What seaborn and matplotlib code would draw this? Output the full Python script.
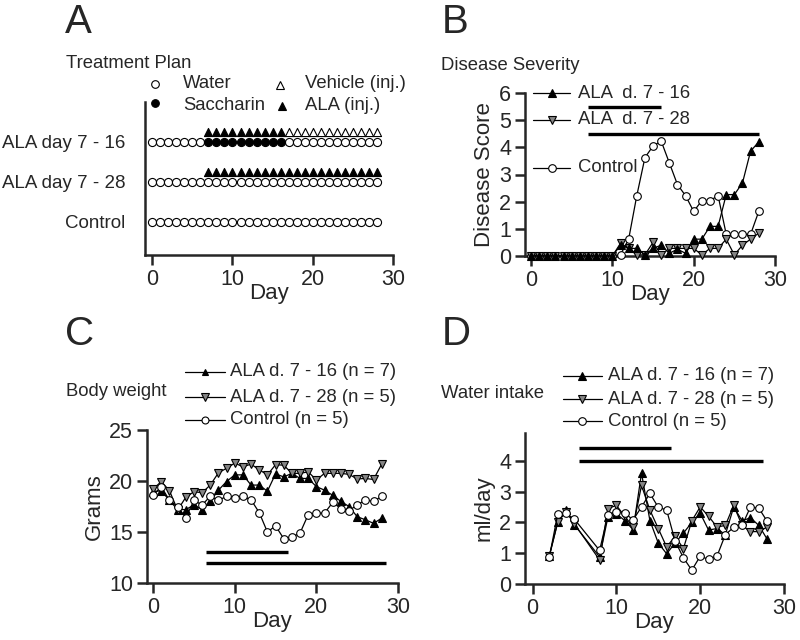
import numpy as np
import pandas as pd
import matplotlib
matplotlib.use("Agg")
import matplotlib.pyplot as plt
import matplotlib.lines as mlines
import seaborn as sns

# ---------------- data ----------------
# A: treatment plan (days of each treatment)
plan_days = list(range(0, 29))
plan_groups = ["Control", "ALA day 7 - 28", "ALA day 7 - 16"]
saccharin_days_716 = list(range(7, 17))
ala_inj_days_716 = list(range(7, 17))
vehicle_inj_days_716 = list(range(17, 29))
ala_inj_days_728 = list(range(7, 29))

# B: disease score
score_days = list(range(0, 29))
score_ala16 = [0]*11 + [0.4, 0.28, 0.28, 0.04, 0.28, 0.4, 0.1, 0.25, 0.1, 0.62, 0.62,
                       1.09, 1.09, 2.26, 2.26, 2.69, 3.86, 4.2]
score_ala28 = [0]*11 + [0.47, 0.28, 0.04, 0.04, 0.5, 0.04, 0.28, 0.28, 0.28, 0.28, 0.04,
                       0.28, 0.28, 0.62, 0.04, 0.4, 0.62, 0.84]
score_ctrl = [0]*11 + [0.05, 0.62, 2.22, 3.62, 4.05, 4.23, 3.43, 2.63, 2.22, 1.64, 2.04,
                      2.04, 2.22, 0.8, 0.8, 0.8, 0.8, 1.64]
score_bars = [(7, 16, 5.5), (7, 28, 4.5)]

# C: body weight (g)
weight_days = list(range(0, 29))
weight_ala16 = [18.95, 19.05, 18.1, 17.2, 17.2, 17.65, 17.2, 18.0, 19.1, 19.95, 20.6, 20.6,
                19.6, 19.6, 19.0, 20.7, 20.4, 20.75, 20.25, 20.25, 19.45, 19.1, 18.6, 18.0,
                17.5, 16.5, 16.2, 15.85, 16.35]
weight_ala28 = [19.2, 19.95, 19.05, 17.15, 18.4, 18.95, 18.85, 19.6, 20.8, 21.25, 21.75, 21.4,
                21.65, 21.1, 20.6, 21.6, 21.55, 20.75, 20.75, 20.9, 20.1, 20.75, 20.75, 20.75,
                20.65, 20.2, 20.25, 20.15, 21.65]
weight_ctrl = [18.6, 19.45, 18.1, 17.5, 16.4, 18.1, 17.65, 18.5, 18.1, 18.5, 18.35, 18.5,
               18.15, 16.9, 15.0, 15.6, 14.35, 14.5, 14.9, 16.7, 16.85, 16.85, 17.9, 17.3,
               17.1, 17.65, 18.15, 18.0, 18.5]
weight_bars = [(6.5, 16.5, 13.0), (6.5, 28.5, 12.0)]

# D: water intake (ml/day)
water_days = [2, 3, 4, 5] + list(range(8, 29))
water_ala16 = [0.92, 2.0, 2.4, 1.92, 0.88, 2.18, 2.28, 2.06, 1.76, 3.6, 2.06, 1.33, 0.98,
               1.33, 1.65, 2.0, 2.3, 1.75, 1.8, 1.6, 2.5, 2.05, 2.15, 1.9, 1.45]
water_ala28 = [0.9, 2.0, 2.35, 1.95, 0.78, 2.45, 2.55, 2.2, 1.85, 3.2, 2.4, 1.8, 1.2,
               1.55, 1.15, 2.05, 2.5, 2.2, 1.85, 1.9, 2.55, 1.9, 1.7, 1.7, 1.85]
water_ctrl = [0.87, 2.26, 2.29, 2.1, 1.09, 2.25, 2.35, 2.3, 2.08, 2.5, 2.94, 2.49, 2.4,
              1.4, 0.85, 0.45, 0.9, 0.8, 0.9, 1.6, 1.84, 1.9, 2.5, 2.46, 2.03]
water_bars = [(5.5, 16.5, 4.4), (5.5, 27.5, 4.0)]

# ---------------- style ----------------
W, H = 800, 640
GREY = "#858585"
sns.set_style("ticks")
plt.rcParams["font.family"] = ["Liberation Sans", "DejaVu Sans"]
plt.rcParams["axes.linewidth"] = 1.8
plt.rcParams["xtick.major.width"] = 1.8
plt.rcParams["ytick.major.width"] = 1.8
plt.rcParams["xtick.major.size"] = 7
plt.rcParams["ytick.major.size"] = 7
plt.rcParams["xtick.labelsize"] = 15.5
plt.rcParams["ytick.labelsize"] = 15.5

fig = plt.figure(figsize=(8, 6.4), dpi=100)


def box(l, r, t, b):
    return [l / W, 1 - b / H, (r - l) / W, (b - t) / H]


def P(px, py):
    return px / W, 1 - py / H


def txt(px, py, s, size=13.3, **kw):
    fig.text(px / W, 1 - py / H, s, fontsize=size, va="center", ha="left", **kw)


def leg_entry(x0, x1, y, marker, face, ms, tx, label):
    xa, ya = P(x0, y)
    xb, _ = P(x1, y)
    fig.add_artist(mlines.Line2D([xa, xb], [ya, ya], color="black", lw=0.9,
                                 transform=fig.transFigure))
    fig.add_artist(mlines.Line2D([(xa + xb) / 2], [ya], marker=marker, ms=ms,
                                 mfc=face, mec="black", mew=0.8, lw=0,
                                 transform=fig.transFigure))
    txt(tx, y, label)


def style_ax(ax):
    sns.despine(ax=ax)
    ax.set_xticks([0, 10, 20, 30])
    ax.tick_params(direction="out", pad=3)
    ax.set_xlabel("Day", fontsize=16, labelpad=-5)


def series(ax, x, y, marker, face, ms):
    sns.lineplot(x=x, y=y, ax=ax, color="black", linewidth=0.9, marker=marker,
                 markersize=ms, markerfacecolor=face, markeredgecolor="black",
                 markeredgewidth=0.8, clip_on=False, zorder=3)


def bars(ax, spans):
    for x0, x1, yv in spans:
        ax.plot([x0, x1], [yv, yv], color="black", lw=2.4, solid_capstyle="butt",
                clip_on=False)


# ---------------- A ----------------
axA = fig.add_axes(box(145, 393, 102, 255))
rows = []
for g_i, g in enumerate(plan_groups):
    for d in plan_days:
        if g == "ALA day 7 - 16" and d in saccharin_days_716:
            rows.append((d, g_i, "saccharin"))
        else:
            rows.append((d, g_i, "water"))
        if g == "ALA day 7 - 16" and d in ala_inj_days_716:
            rows.append((d, g_i + 0.25, "ala"))
        if g == "ALA day 7 - 16" and d in vehicle_inj_days_716:
            rows.append((d, g_i + 0.25, "vehicle"))
        if g == "ALA day 7 - 28" and d in ala_inj_days_728:
            rows.append((d, g_i + 0.25, "ala"))
plan = pd.DataFrame(rows, columns=["day", "row", "kind"])
kinds = {"water": ("o", "white"), "saccharin": ("o", "black"),
         "ala": ("^", "black"), "vehicle": ("^", "white")}
for k, (m, fc) in kinds.items():
    sub = plan[plan["kind"] == k]
    sns.scatterplot(data=sub, x="day", y="row", ax=axA, marker=m, s=34,
                    facecolor=fc, edgecolor="black", linewidth=0.8, clip_on=False)
axA.set_xlim(-0.9, 30)
axA.set_ylim(-0.825, 3.0)
axA.set_yticks([0, 1, 2])
axA.set_yticklabels(plan_groups, fontsize=13.5)
style_ax(axA)
axA.tick_params(axis="y", length=0, pad=14)
axA.set_ylabel("")

txt(65, 22, "A", size=29)
txt(66, 64, "Treatment Plan")
for (mx, my), (m, fc), (tx, ty), lab in [
        ((155, 84), ("o", "white"), (183, 84), "Water"),
        ((280, 85), ("^", "white"), (305, 84), "Vehicle (inj.)"),
        ((155, 103), ("o", "black"), (183, 106), "Saccharin"),
        ((282, 106), ("^", "black"), (305, 106), "ALA (inj.)")]:
    fx, fy = P(mx, my)
    fig.add_artist(mlines.Line2D([fx], [fy], marker=m, ms=5.5, mfc=fc, mec="black",
                                 mew=0.8, lw=0, transform=fig.transFigure))
    txt(tx, ty, lab)

# ---------------- B ----------------
axB = fig.add_axes(box(525, 775, 93, 256))
series(axB, score_days, score_ctrl, "o", "white", 5.5)
series(axB, score_days, score_ala28, "v", GREY, 6)
series(axB, score_days, score_ala16, "^", "black", 6)
bars(axB, score_bars)
axB.set_xlim(-0.75, 30)
axB.set_ylim(0, 6)
axB.set_yticks(range(0, 7))
style_ax(axB)
axB.set_ylabel("Disease Score", fontsize=16, labelpad=3)

txt(442, 22, "B", size=29)
txt(441, 65, "Disease Severity")
leg_entry(533, 570, 93, "^", "black", 6, 578, "ALA  d. 7 - 16")
leg_entry(533, 570, 120, "v", GREY, 6, 578, "ALA  d. 7 - 28")
leg_entry(533, 570, 168, "o", "white", 5.5, 578, "Control")

# ---------------- C ----------------
axC = fig.add_axes(box(147, 398, 430, 583))
series(axC, weight_days, weight_ala16, "^", "black", 5.5)
series(axC, weight_days, weight_ala28, "v", GREY, 6)
series(axC, weight_days, weight_ctrl, "o", "white", 5.5)
bars(axC, weight_bars)
axC.set_xlim(-0.75, 30)
axC.set_ylim(10, 25)
axC.set_yticks([10, 15, 20, 25])
style_ax(axC)
axC.set_ylabel("Grams", fontsize=16, labelpad=3)

txt(65, 334, "C", size=29)
txt(66, 392, "Body weight")
leg_entry(185, 225, 372, "^", "black", 5, 230, "ALA d. 7 - 16 (n = 7)")
leg_entry(185, 225, 397, "v", GREY, 5.5, 230, "ALA d. 7 - 28 (n = 5)")
leg_entry(185, 225, 420, "o", "white", 5, 230, "Control (n = 5)")

# ---------------- D ----------------
axD = fig.add_axes(box(525, 784, 433, 584))
series(axD, water_days, water_ala16, "^", "black", 5.5)
series(axD, water_days, water_ala28, "v", GREY, 6)
series(axD, water_days, water_ctrl, "o", "white", 5.5)
bars(axD, water_bars)
axD.set_xlim(-0.9, 30)
axD.set_ylim(0, 4.9)
axD.set_yticks([0, 1, 2, 3, 4])
style_ax(axD)
axD.set_ylabel("ml/day", fontsize=16, labelpad=3)

txt(442, 334, "D", size=29)
txt(441, 393, "Water intake")
leg_entry(563, 602, 376, "^", "black", 5.5, 608, "ALA d. 7 - 16 (n = 7)")
leg_entry(563, 602, 399, "v", GREY, 6, 608, "ALA d. 7 - 28 (n = 5)")
leg_entry(563, 602, 421, "o", "white", 5.5, 608, "Control (n = 5)")

fig.savefig("out.png", dpi=100)
